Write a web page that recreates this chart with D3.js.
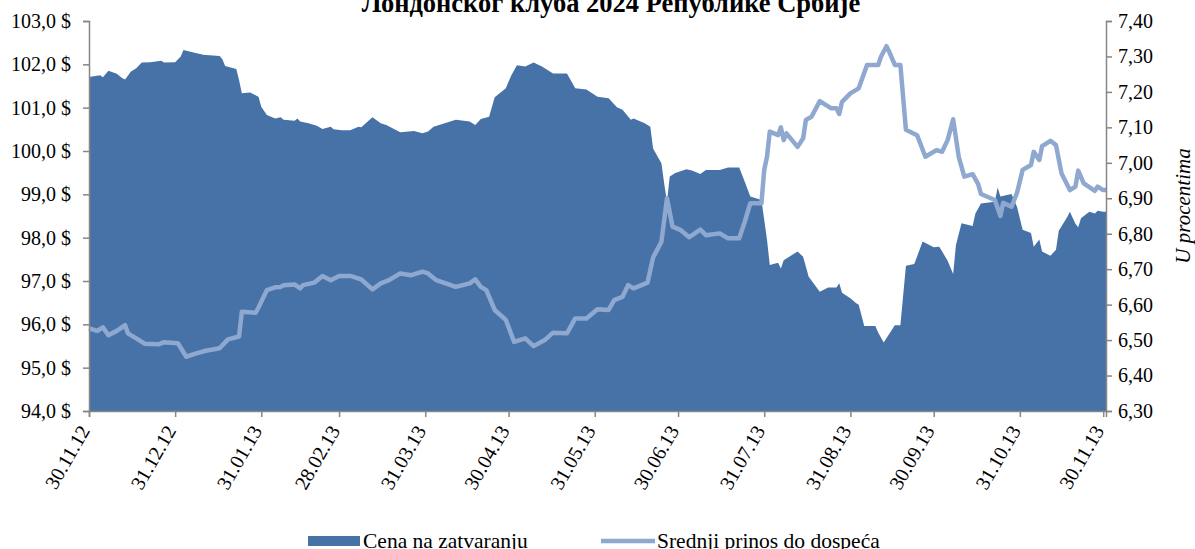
<!DOCTYPE html>
<html>
<head>
<meta charset="utf-8">
<script src="https://cdn.jsdelivr.net/npm/d3@7"></script>
<style>
  body { margin: 0; background: #fff; }
  svg { display: block; font-family: "Liberation Serif", "Times New Roman", serif; }
</style>
</head>
<body>
<svg id="chart"></svg>
<script>
// closing price (left axis, USD)
const priceDates = ["2012-11-30","2012-12-04","2012-12-05","2012-12-07","2012-12-10","2012-12-12","2012-12-13","2012-12-15","2012-12-17","2012-12-19","2012-12-22","2012-12-26","2012-12-27","2012-12-31","2013-01-02","2013-01-03","2013-01-07","2013-01-09","2013-01-10","2013-01-16","2013-01-17","2013-01-18","2013-01-22","2013-01-23","2013-01-24","2013-01-27","2013-01-30","2013-01-31","2013-02-02","2013-02-05","2013-02-07","2013-02-08","2013-02-12","2013-02-13","2013-02-14","2013-02-17","2013-02-20","2013-02-22","2013-02-25","2013-02-26","2013-03-01","2013-03-04","2013-03-07","2013-03-08","2013-03-12","2013-03-15","2013-03-17","2013-03-22","2013-03-27","2013-03-30","2013-04-01","2013-04-03","2013-04-05","2013-04-11","2013-04-16","2013-04-18","2013-04-20","2013-04-23","2013-04-25","2013-04-29","2013-05-01","2013-05-03","2013-05-06","2013-05-09","2013-05-12","2013-05-16","2013-05-21","2013-05-24","2013-05-28","2013-06-01","2013-06-05","2013-06-08","2013-06-10","2013-06-13","2013-06-14","2013-06-18","2013-06-20","2013-06-21","2013-06-24","2013-06-25","2013-06-26","2013-06-27","2013-06-29","2013-07-03","2013-07-05","2013-07-08","2013-07-10","2013-07-15","2013-07-18","2013-07-22","2013-07-24","2013-07-26","2013-07-30","2013-08-01","2013-08-02","2013-08-05","2013-08-06","2013-08-07","2013-08-10","2013-08-12","2013-08-14","2013-08-16","2013-08-20","2013-08-23","2013-08-26","2013-08-27","2013-08-28","2013-08-31","2013-09-02","2013-09-03","2013-09-05","2013-09-09","2013-09-10","2013-09-12","2013-09-16","2013-09-18","2013-09-20","2013-09-23","2013-09-26","2013-09-30","2013-10-02","2013-10-05","2013-10-07","2013-10-08","2013-10-10","2013-10-14","2013-10-15","2013-10-17","2013-10-22","2013-10-23","2013-10-24","2013-10-28","2013-10-30","2013-11-01","2013-11-04","2013-11-05","2013-11-07","2013-11-08","2013-11-11","2013-11-13","2013-11-14","2013-11-17","2013-11-18","2013-11-20","2013-11-21","2013-11-22","2013-11-25","2013-11-27","2013-11-28","2013-11-30","2013-12-01"];
const priceValues = [101.71,101.75,101.70,101.85,101.78,101.68,101.65,101.83,101.91,102.04,102.05,102.08,102.04,102.05,102.18,102.33,102.27,102.24,102.22,102.19,102.12,101.96,101.89,101.64,101.33,101.35,101.25,101.02,100.83,100.75,100.78,100.72,100.70,100.75,100.68,100.64,100.58,100.51,100.56,100.50,100.48,100.48,100.56,100.55,100.78,100.64,100.60,100.43,100.46,100.41,100.45,100.56,100.60,100.72,100.68,100.60,100.74,100.79,101.24,101.45,101.75,101.98,101.95,102.04,101.95,101.79,101.79,101.45,101.42,101.25,101.22,101.01,100.95,100.72,100.75,100.64,100.56,100.06,99.72,99.25,98.83,99.41,99.49,99.58,99.55,99.47,99.56,99.56,99.62,99.62,99.29,98.95,98.87,97.95,97.37,97.42,97.29,97.48,97.60,97.68,97.56,97.10,96.75,96.85,96.85,96.95,96.73,96.60,96.49,96.45,95.96,95.96,95.81,95.58,95.98,95.98,97.35,97.39,97.91,97.78,97.79,97.47,97.16,97.83,98.33,98.27,98.56,98.79,98.83,99.16,98.95,99.01,98.71,98.18,98.11,97.79,97.96,97.68,97.58,97.72,98.16,98.47,98.60,98.32,98.24,98.45,98.60,98.56,98.62,98.60,98.60];

// average yield to maturity (right axis, %)
const yieldDates = ["2012-11-30","2012-12-03","2012-12-05","2012-12-07","2012-12-10","2012-12-13","2012-12-14","2012-12-17","2012-12-20","2012-12-25","2012-12-27","2013-01-01","2013-01-04","2013-01-07","2013-01-11","2013-01-16","2013-01-19","2013-01-23","2013-01-24","2013-01-29","2013-01-30","2013-02-02","2013-02-05","2013-02-07","2013-02-08","2013-02-12","2013-02-14","2013-02-15","2013-02-19","2013-02-22","2013-02-25","2013-02-28","2013-03-04","2013-03-08","2013-03-12","2013-03-15","2013-03-18","2013-03-22","2013-03-26","2013-03-30","2013-04-01","2013-04-04","2013-04-11","2013-04-16","2013-04-18","2013-04-20","2013-04-22","2013-04-25","2013-04-29","2013-05-02","2013-05-06","2013-05-09","2013-05-13","2013-05-16","2013-05-21","2013-05-24","2013-05-28","2013-06-01","2013-06-05","2013-06-07","2013-06-10","2013-06-12","2013-06-14","2013-06-19","2013-06-21","2013-06-24","2013-06-26","2013-06-28","2013-07-01","2013-07-04","2013-07-06","2013-07-08","2013-07-10","2013-07-15","2013-07-18","2013-07-22","2013-07-24","2013-07-26","2013-07-30","2013-07-31","2013-08-01","2013-08-02","2013-08-05","2013-08-06","2013-08-07","2013-08-08","2013-08-12","2013-08-14","2013-08-15","2013-08-17","2013-08-20","2013-08-24","2013-08-26","2013-08-27","2013-08-28","2013-08-31","2013-09-03","2013-09-06","2013-09-10","2013-09-11","2013-09-13","2013-09-14","2013-09-16","2013-09-18","2013-09-20","2013-09-24","2013-09-27","2013-10-01","2013-10-03","2013-10-05","2013-10-07","2013-10-09","2013-10-11","2013-10-14","2013-10-16","2013-10-17","2013-10-22","2013-10-24","2013-10-25","2013-10-28","2013-10-30","2013-11-01","2013-11-04","2013-11-05","2013-11-07","2013-11-08","2013-11-11","2013-11-13","2013-11-15","2013-11-18","2013-11-20","2013-11-21","2013-11-23","2013-11-27","2013-11-28","2013-11-30","2013-12-01"];
const yieldValues = [6.533,6.526,6.536,6.514,6.526,6.542,6.519,6.505,6.490,6.488,6.494,6.491,6.453,6.461,6.470,6.477,6.502,6.510,6.580,6.577,6.592,6.641,6.649,6.650,6.655,6.657,6.646,6.655,6.662,6.681,6.669,6.681,6.681,6.671,6.643,6.660,6.669,6.688,6.683,6.693,6.688,6.669,6.650,6.660,6.671,6.650,6.641,6.585,6.557,6.495,6.505,6.483,6.500,6.521,6.519,6.561,6.561,6.587,6.585,6.613,6.622,6.655,6.646,6.662,6.733,6.777,6.900,6.820,6.810,6.790,6.801,6.812,6.796,6.801,6.787,6.787,6.834,6.886,6.886,6.980,7.017,7.088,7.078,7.100,7.064,7.083,7.045,7.069,7.121,7.130,7.174,7.154,7.154,7.138,7.172,7.196,7.210,7.276,7.276,7.299,7.329,7.313,7.276,7.276,7.093,7.078,7.017,7.036,7.031,7.064,7.123,7.017,6.961,6.968,6.940,6.912,6.895,6.850,6.887,6.876,6.916,6.980,6.994,7.031,7.008,7.047,7.062,7.050,6.970,6.923,6.933,6.978,6.942,6.921,6.933,6.923,6.923];

const xTickDates = ["2012-11-30","2012-12-31","2013-01-31","2013-02-28","2013-03-31","2013-04-30","2013-05-31","2013-06-30","2013-07-31","2013-08-31","2013-09-30","2013-10-31","2013-11-30"];
const leftTicks = [94, 95, 96, 97, 98, 99, 100, 101, 102, 103];
const rightTicks = [6.3, 6.4, 6.5, 6.6, 6.7, 6.8, 6.9, 7.0, 7.1, 7.2, 7.3, 7.4];

const titleText = "Лондонског клуба 2024 Републике Србије";
const rightAxisTitle = "U procentima";
const legendLabels = ["Cena na zatvaranju", "Srednji prinos do dospeća"];

const width = 1195, height = 549;
const margin = { top: 21, right: 95, bottom: 138, left: 89 };
const areaColor = "#4672a8";
const lineColor = "#8ea8d0";
const axisColor = "#868686";

const parse = d3.timeParse("%Y-%m-%d");
const fmtDate = d3.timeFormat("%d.%m.%y");

const priceData = priceDates.map((d, i) => ({ date: parse(d), value: priceValues[i] }));
const yieldData = yieldDates.map((d, i) => ({ date: parse(d), value: yieldValues[i] }));

const svg = d3.select("#chart")
    .attr("width", width)
    .attr("height", height);

const x = d3.scaleTime()
    .domain([parse("2012-11-30"), parse("2013-12-01")])
    .range([margin.left, width - margin.right + 6]);

const yLeft = d3.scaleLinear()
    .domain([94, 103])
    .range([height - margin.bottom, margin.top]);

const yRight = d3.scaleLinear()
    .domain([6.3, 7.4])
    .range([height - margin.bottom, margin.top]);

const x0 = x.range()[0], x1 = x.range()[1];
const yBottom = yLeft.range()[0];

// price area
const area = d3.area()
    .x(d => x(d.date))
    .y0(yBottom)
    .y1(d => yLeft(d.value));

svg.append("path")
    .datum(priceData)
    .attr("fill", areaColor)
    .attr("d", area);

// yield line
const line = d3.line()
    .x(d => x(d.date))
    .y(d => yRight(d.value));

svg.append("path")
    .datum(yieldData)
    .attr("fill", "none")
    .attr("stroke", lineColor)
    .attr("stroke-width", 4.5)
    .attr("stroke-linejoin", "round")
    .attr("d", line);

// axes
const leftAxis = d3.axisLeft(yLeft)
    .tickValues(leftTicks)
    .tickSize(6)
    .tickPadding(12)
    .tickFormat(d => d.toFixed(1).replace(".", ",") + " $");

const gl = svg.append("g")
    .attr("transform", `translate(${x0},0)`)
    .call(leftAxis);

const rightAxis = d3.axisRight(yRight)
    .tickValues(rightTicks)
    .tickSize(6)
    .tickPadding(6)
    .tickFormat(d => d.toFixed(2).replace(".", ","));

const gr = svg.append("g")
    .attr("transform", `translate(${x1},0)`)
    .call(rightAxis);

const bottomAxis = d3.axisBottom(x)
    .tickValues(xTickDates.map(parse))
    .tickSize(6)
    .tickFormat(fmtDate);

const gb = svg.append("g")
    .attr("transform", `translate(0,${yBottom})`)
    .call(bottomAxis);

gb.selectAll("text")
    .attr("text-anchor", "end")
    .attr("dy", "0.35em")
    .attr("transform", "translate(-5,16) rotate(-60)")
    .attr("y", 0)
    .attr("x", 0);

[gl, gr, gb].forEach(g => {
    g.select(".domain").attr("stroke", axisColor).attr("stroke-width", 1.5);
    g.selectAll(".tick line").attr("stroke", axisColor).attr("stroke-width", 1.5);
    g.selectAll("text")
        .attr("fill", "#000")
        .style("font-family", "'Liberation Serif', 'Times New Roman', serif")
        .style("font-size", "20px");
});

// title (cut at top, as in the source)
svg.append("text")
    .attr("x", 611)
    .attr("y", 12)
    .attr("text-anchor", "middle")
    .style("font-size", "26.5px")
    .style("font-weight", "bold")
    .text(titleText);

// right axis title
svg.append("text")
    .attr("transform", `translate(1190,206) rotate(-90)`)
    .attr("text-anchor", "middle")
    .style("font-size", "21px")
    .style("font-style", "italic")
    .text(rightAxisTitle);

// legend
const legend = svg.append("g").attr("transform", "translate(0,541)");
legend.append("rect")
    .attr("x", 308).attr("y", -5)
    .attr("width", 52).attr("height", 10)
    .attr("fill", areaColor);
legend.append("text")
    .attr("x", 363).attr("y", 7)
    .style("font-size", "21.5px")
    .text(legendLabels[0]);
legend.append("line")
    .attr("x1", 601).attr("x2", 655)
    .attr("y1", 0).attr("y2", 0)
    .attr("stroke", lineColor)
    .attr("stroke-width", 4.5);
legend.append("text")
    .attr("x", 657).attr("y", 7)
    .style("font-size", "21.5px")
    .text(legendLabels[1]);
</script>
</body>
</html>
